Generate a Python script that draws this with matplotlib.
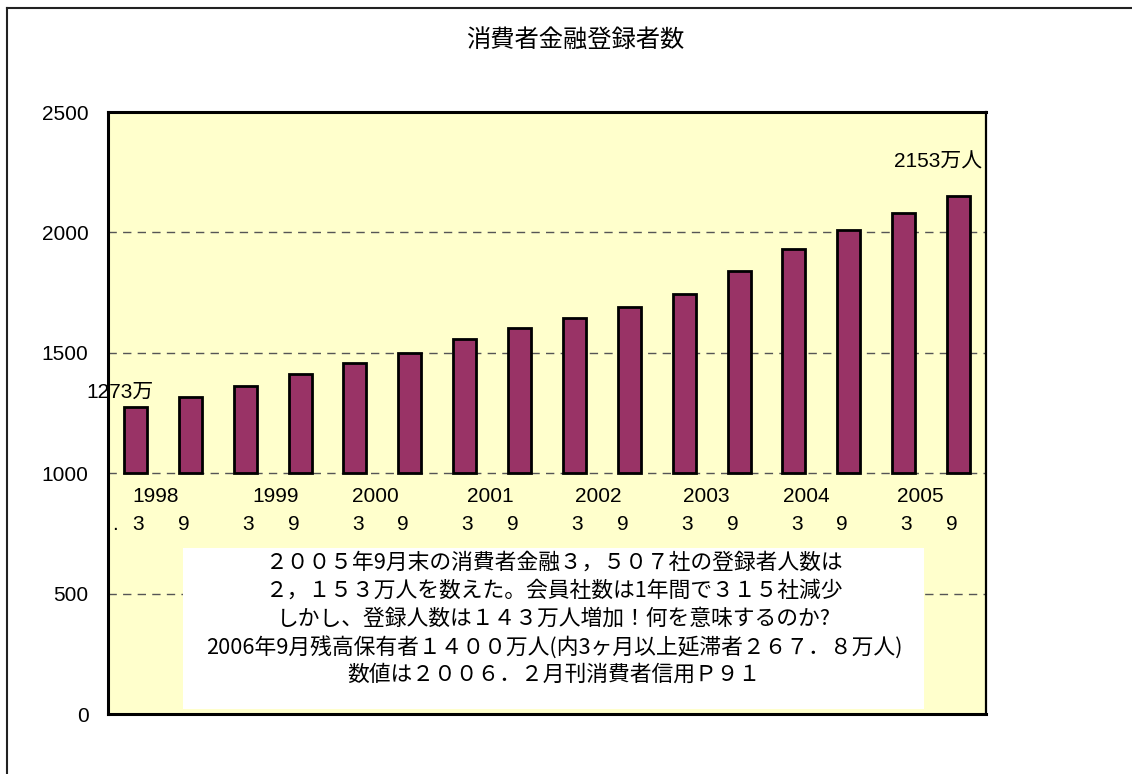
import matplotlib
matplotlib.use("Agg")
import matplotlib.pyplot as plt
from matplotlib.patches import Rectangle
from matplotlib.lines import Line2D

plt.rcParams['font.family'] = ['Liberation Sans', 'Noto Sans CJK JP', 'DejaVu Sans']

# ---- data ----
periods = ["1998.3", "1998.9", "1999.3", "1999.9", "2000.3", "2000.9",
           "2001.3", "2001.9", "2002.3", "2002.9", "2003.3", "2003.9",
           "2004.3", "2004.9", "2005.3", "2005.9"]
registrants = [1273, 1317, 1363, 1413, 1457, 1501, 1558, 1604,
               1644, 1692, 1743, 1841, 1932, 2011, 2082, 2153]
years = ["1998", "1999", "2000", "2001", "2002", "2003", "2004", "2005"]
months = ["3", "9"] * 8
yticks = [0, 500, 1000, 1500, 2000, 2500]
base_value = 1000
title = "消費者金融登録者数"
first_label = "1273万"
last_label = "2153万人"
note_lines = [
    "２００５年9月末の消費者金融３，５０７社の登録者人数は",
    "２，１５３万人を数えた。会員社数は1年間で３１５社減少",
    "しかし、登録人数は１４３万人増加！何を意味するのか?",
    "2006年9月残高保有者１４００万人(内3ヶ月以上延滞者２６７．８万人)",
    "数値は２００６．２月刊消費者信用Ｐ９１",
]

# ---- layout ----
year_x = [0.37, 2.56, 4.38, 6.46, 8.44, 10.40, 12.22, 14.31]
month_dx = [0.05, -0.12] * 8
year_y = 905
month_y = 786
fs = 15

W, H = 1132, 774
fig = plt.figure(figsize=(W / 100, H / 100), dpi=100)
fig.patch.set_facecolor("white")

ax = fig.add_axes([108 / W, 60 / H, 878 / W, 602 / H])
ax.set_facecolor("#FFFFCC")

x = list(range(len(periods)))
heights = [v - base_value for v in registrants]
ax.bar(x, heights, bottom=base_value, width=0.42, color="#993366",
       edgecolor="black", linewidth=2.0, zorder=3)

ax.set_xlim(-0.5, len(periods) - 0.5)
ax.set_ylim(0, 2500)
ax.set_yticks(yticks)
ax.set_yticklabels([str(t) for t in yticks], fontsize=fs)
ax.tick_params(axis="y", length=0, pad=14)
ax.set_xticks([])
for t in yticks[1:-1]:
    ax.axhline(t, color="#555555", linestyle=(0, (6, 4.5)), linewidth=1.0, zorder=1)
for s in ax.spines.values():
    s.set_linewidth(2.2)
    s.set_color("black")
ax.spines["right"].set_linewidth(1.6)

# category labels inside the plot
for yx, yl in zip(year_x, years):
    ax.text(yx, year_y, yl, ha="center", va="center", fontsize=fs, zorder=4)
for i, (m, dx) in enumerate(zip(months, month_dx)):
    ax.text(i + dx, month_y, m, ha="center", va="center", fontsize=fs, zorder=4)
ax.text(-0.37, month_y, ".", ha="center", va="center", fontsize=fs, zorder=4)

# data labels
ax.text(x[0] - 0.28, registrants[0] + 61, first_label, ha="center", va="center",
        fontsize=fs, zorder=4)
ax.text(x[-1] - 0.37, registrants[-1] + 138, last_label, ha="center", va="center",
        fontsize=fs, zorder=4, clip_on=True)

# note box
ax.add_patch(Rectangle((0.0854, 0.0083), 0.8436, 0.2674, transform=ax.transAxes,
                       facecolor="white", edgecolor="none", zorder=5))
note_y = [0.2508, 0.2043, 0.1578, 0.1113, 0.0648]
for ny, line in zip(note_y, note_lines):
    ax.text(0.508, ny, line, transform=ax.transAxes, ha="center", va="center",
            fontsize=15.7, family=["Noto Sans CJK JP", "DejaVu Sans"], zorder=6)

# title
fig.text(575 / W, 1 - 40 / H, title, ha="center", va="center", fontsize=17.5,
         family=["Noto Sans CJK JP", "DejaVu Sans"])

# chart-area frame (top and left visible)
fig.add_artist(Line2D([7 / W, 1], [1 - 8 / H, 1 - 8 / H], transform=fig.transFigure,
                      color="#222222", linewidth=1.5))
fig.add_artist(Line2D([7 / W, 7 / W], [0, 1 - 8 / H], transform=fig.transFigure,
                      color="#222222", linewidth=1.5))

fig.savefig("out.png", dpi=100, facecolor="white")
